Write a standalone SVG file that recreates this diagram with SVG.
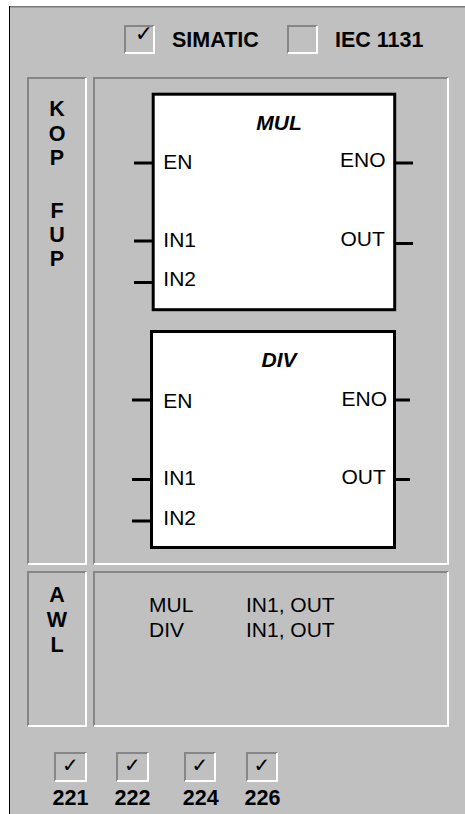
<svg xmlns="http://www.w3.org/2000/svg" width="465" height="814" viewBox="0 0 465 814">
<style>
  text { font-family: "Liberation Sans", Arial, sans-serif; fill: #000; }
  .b { font-weight: bold; font-size: 21.5px; }
  .bl { font-weight: bold; font-size: 21.5px; text-anchor: middle; }
  .r { font-size: 21px; }
  .t { font-weight: bold; font-style: italic; font-size: 21px; text-anchor: middle; }
  .ck { font-family: "DejaVu Sans", sans-serif; text-anchor: middle; font-weight: bold; }
  .sh { fill: none; stroke: #868686; stroke-width: 2; }
  .hl { fill: none; stroke: #ffffff; stroke-width: 2; }
  .box { fill: #ffffff; stroke: #000; stroke-width: 3; }
  .pin { stroke: #000; stroke-width: 3; fill: none; }
</style>
<rect x="0" y="0" width="465" height="814" fill="#ffffff"/>
<rect x="9" y="6" width="456" height="808" fill="#c0c0c0"/>
<line x1="9" y1="6.7" x2="465" y2="6.7" stroke="#7a7a7a" stroke-width="1.4"/>
<line x1="9.5" y1="6" x2="9.5" y2="814" stroke="#000" stroke-width="1"/>

<g id="header">
  <path class="sh" d="M125,53 V26 H154"/>
  <path class="hl" d="M154,26 V53 H125"/>
  <text class="ck" x="144" y="40.5" font-size="22">✓</text>
  <text class="b" x="172" y="46.7">SIMATIC</text>
  <path class="sh" d="M288,53 V26 H317"/>
  <path class="hl" d="M317,26 V53 H288"/>
  <text class="b" x="335" y="46.7">IEC 1131</text>
</g>

<g id="panel-kop">
  <path class="sh" d="M28,564 V78 H86"/>
  <path class="hl" d="M86,78 V564 H28"/>
  <text class="bl" x="57" y="115.5">K</text>
  <text class="bl" x="57" y="140.5">O</text>
  <text class="bl" x="57" y="165">P</text>
  <text class="bl" x="57" y="218">F</text>
  <text class="bl" x="57" y="242">U</text>
  <text class="bl" x="57" y="265.5">P</text>
</g>

<g id="panel-fup">
  <path class="sh" d="M94,564 V78 H448"/>
  <path class="hl" d="M448,78 V564 H94"/>
</g>

<g id="connectors">
  <line class="pin" x1="134" y1="163" x2="153" y2="163"/>
  <line class="pin" x1="134" y1="241" x2="153" y2="241"/>
  <line class="pin" x1="134" y1="282.5" x2="153" y2="282.5"/>
  <line class="pin" x1="395" y1="163" x2="413" y2="163"/>
  <line class="pin" x1="395" y1="243.5" x2="413" y2="243.5"/>
  <line class="pin" x1="132" y1="400" x2="151" y2="400"/>
  <line class="pin" x1="132" y1="479.5" x2="151" y2="479.5"/>
  <line class="pin" x1="132" y1="521" x2="151" y2="521"/>
  <line class="pin" x1="395" y1="400" x2="410" y2="400"/>
  <line class="pin" x1="395" y1="479.5" x2="410" y2="479.5"/>
</g>

<g id="mul">
  <rect class="box" x="153.2" y="94.2" width="241.5" height="215.5"/>
  <text class="t" x="279" y="130">MUL</text>
  <text class="r" x="163.3" y="169.3">EN</text>
  <text class="r" x="340" y="167.3">ENO</text>
  <text class="r" x="163.3" y="246.7">IN1</text>
  <text class="r" x="340.5" y="245.7">OUT</text>
  <text class="r" x="163.3" y="285.7">IN2</text>
</g>

<g id="div">
  <rect class="box" x="151.5" y="331.5" width="243" height="216"/>
  <text class="t" x="279" y="366.7">DIV</text>
  <text class="r" x="163.3" y="408.3">EN</text>
  <text class="r" x="341.5" y="406">ENO</text>
  <text class="r" x="163.3" y="485">IN1</text>
  <text class="r" x="341.5" y="484.3">OUT</text>
  <text class="r" x="163.3" y="525">IN2</text>
</g>

<g id="panel-awl-label">
  <path class="sh" d="M28,726 V572 H86"/>
  <path class="hl" d="M86,572 V726 H28"/>
  <text class="bl" x="57" y="602">A</text>
  <text class="bl" x="57" y="627">W</text>
  <text class="bl" x="57" y="652">L</text>
</g>

<g id="panel-awl">
  <path class="sh" d="M94,726 V572 H448"/>
  <path class="hl" d="M448,572 V726 H94"/>
  <text class="r" x="149" y="611.7">MUL</text>
  <text class="r" x="246" y="611.7">IN1, OUT</text>
  <text class="r" x="149" y="636.7">DIV</text>
  <text class="r" x="246" y="636.7">IN1, OUT</text>
</g>

<g id="cpu-221">
  <path class="sh" d="M55,781 V753 H86"/>
  <path class="hl" d="M86,753 V781 H55"/>
  <text class="ck" x="70.5" y="772" font-size="20">✓</text>
  <text class="b" x="70.5" y="805" text-anchor="middle">221</text>
</g>
<g id="cpu-222">
  <path class="sh" d="M117,781 V753 H148"/>
  <path class="hl" d="M148,753 V781 H117"/>
  <text class="ck" x="132.5" y="772" font-size="20">✓</text>
  <text class="b" x="132.5" y="805" text-anchor="middle">222</text>
</g>
<g id="cpu-224">
  <path class="sh" d="M185,781 V753 H215"/>
  <path class="hl" d="M215,753 V781 H185"/>
  <text class="ck" x="200" y="772" font-size="20">✓</text>
  <text class="b" x="200.8" y="805" text-anchor="middle">224</text>
</g>
<g id="cpu-226">
  <path class="sh" d="M247,781 V753 H277"/>
  <path class="hl" d="M277,753 V781 H247"/>
  <text class="ck" x="262" y="772" font-size="20">✓</text>
  <text class="b" x="262.5" y="805" text-anchor="middle">226</text>
</g>
</svg>
